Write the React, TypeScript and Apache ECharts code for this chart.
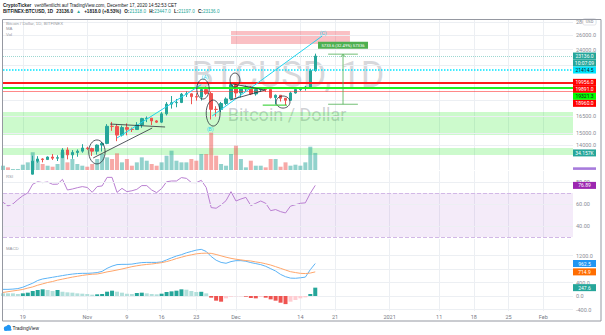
import React, { useEffect, useRef } from "react";
import * as echarts from "echarts";

// ---------- categories (one per day, Oct 15 2020 .. Feb 7 2021) ----------
const firstDayUTC = Date.UTC(2020, 9, 15);
const dayCount = 116;
const dates: string[] = [];
for (let i = 0; i < dayCount; i++) {
  dates.push(new Date(firstDayUTC + i * 86400000).toISOString().slice(0, 10));
}

// ---------- time axis ticks ----------
const tickDates = ["2020-10-19", "2020-11-01", "2020-11-09", "2020-11-16", "2020-11-23", "2020-12-01", "2020-12-14", "2020-12-21", "2021-01-01", "2021-01-11", "2021-01-18", "2021-01-25", "2021-02-01"];
const tickLabels = ["19", "Nov", "9", "16", "23", "Dec", "14", "21", "2021", "11", "18", "25", "Feb"];

// ---------- daily candles (Oct 15 .. Dec 17) ----------
const opens = [11425, 11500, 11320, 11365, 11500, 11750, 11915, 12820, 12975, 12935, 13120, 13035, 13070, 13650, 13280, 13460, 13560, 13800, 13760, 13560, 14030, 14160, 15590, 15580, 14840, 15480, 15330, 15310, 15700, 16280, 16320, 16070, 15960, 16720, 17660, 17800, 17820, 18680, 18710, 18420, 18370, 19160, 18740, 17150, 17140, 17720, 18180, 19700, 18800, 19220, 19450, 18700, 19160, 19380, 19180, 18320, 18560, 18250, 18040, 18800, 19170, 19280, 19440, 21318];
const closes = [11500, 11320, 11365, 11500, 11750, 11915, 12820, 12975, 12935, 13120, 13035, 13070, 13650, 13280, 13460, 13560, 13800, 13760, 13560, 14030, 14160, 15590, 15580, 14840, 15480, 15330, 15310, 15700, 16280, 16320, 16070, 15960, 16720, 17660, 17800, 17820, 18680, 18710, 18420, 18370, 19160, 18740, 17150, 17140, 17720, 18180, 19700, 18800, 19220, 19450, 18700, 19160, 19380, 19180, 18320, 18560, 18250, 18040, 18800, 19170, 19280, 19440, 21318, 23136];
const highs = [11635, 11540, 11400, 11490, 11820, 12000, 13220, 13180, 13030, 13160, 13340, 13250, 13790, 13850, 13640, 13690, 14100, 13900, 13830, 14080, 14280, 15780, 15980, 15780, 15660, 15850, 15480, 15960, 16350, 16480, 16330, 16140, 16880, 17860, 18480, 18180, 18800, 18970, 18760, 18770, 19420, 19490, 18920, 17450, 17880, 18340, 19880, 19956, 19300, 19600, 19540, 19170, 19420, 19420, 19300, 18640, 18580, 18280, 18940, 19400, 19330, 19560, 21540, 23447];
const lows = [11260, 11220, 11270, 11330, 11420, 11680, 11900, 12700, 12730, 12900, 12900, 12830, 13060, 12950, 12990, 13140, 13440, 13640, 13200, 13300, 13530, 14100, 15200, 14340, 14720, 14820, 15100, 15280, 15460, 15960, 15700, 15880, 15880, 16570, 17220, 17350, 17760, 18380, 17650, 18000, 18020, 18600, 16200, 16470, 16880, 17550, 18180, 18320, 18340, 18930, 18580, 18520, 18900, 18920, 18230, 17620, 17920, 17570, 18000, 18730, 19000, 19050, 19280, 21197];
// volume in thousands
const volumesK = [8.6, 5.3, 2.0, 2.0, 10.6, 15.3, 35.3, 18.6, 12, 8.6, 6.6, 12, 35.3, 15.3, 22, 12, 8.6, 6.6, 12, 22, 32, 25.3, 22, 33.3, 15.3, 22, 8.6, 15.3, 25.3, 18.6, 12, 8.6, 15.3, 28.6, 38.6, 18.6, 15.3, 15.3, 22, 18.6, 32, 32, 74.6, 28.6, 12, 8.6, 32, 48.6, 22, 5.3, 18.6, 8.6, 8.6, 5.3, 22, 22, 6.6, 15.3, 8.6, 10.6, 8.6, 15.3, 46.6, 34.157];

// ---------- RSI ----------
const rsiValues = [61.5, 58.2, 60, 64, 67.5, 70, 78, 80.2, 79.4, 80, 77.9, 78, 82.4, 72.7, 73.6, 74.8, 75.8, 75, 70.6, 75.8, 76.4, 84.2, 84.2, 70.5, 74.2, 71.2, 72, 73.3, 76.7, 76.7, 72.7, 70.3, 74, 80.2, 80.9, 80.9, 84, 83.3, 79.5, 79.4, 81.5, 75, 56.7, 56.1, 59.1, 63, 71.2, 62.7, 64.5, 66, 58.5, 60.6, 62.7, 60.6, 53.9, 54.9, 53, 51.8, 58, 59.3, 60.6, 61, 69.7, 76.89];

// ---------- MACD ----------
const macdValues = [197, 197, 205, 220, 260, 320, 380, 460, 505, 530, 555, 580, 605, 630, 650, 665, 672, 672, 680, 695, 730, 820, 885, 930, 938, 938, 945, 970, 990, 996, 996, 996, 1010, 1070, 1130, 1185, 1225, 1280, 1320, 1360, 1383, 1320, 1170, 1060, 996, 970, 1020, 1047, 1047, 1030, 990, 960, 930, 880, 810, 740, 640, 572, 530, 525, 540, 560, 780, 962.5];
const signalValues = [105, 128, 150, 170, 195, 235, 270, 320, 360, 400, 430, 470, 500, 530, 560, 585, 610, 630, 645, 652, 680, 715, 740, 770, 800, 835, 869, 895, 918, 935, 948, 968, 988, 1020, 1060, 1110, 1150, 1190, 1220, 1250, 1264, 1270, 1264, 1230, 1190, 1150, 1116, 1090, 1070, 1050, 1037, 1010, 988, 955, 918, 870, 820, 770, 721, 695, 672, 665, 680, 714.9];
const histValues = [79, 79, 79, 59, 79, 99, 148, 178, 198, 178, 148, 178, 128, 109, 99, 79, 69, 59, 40, 50, 59, 128, 158, 128, 99, 69, 59, 89, 99, 79, 59, 50, 69, 119, 138, 158, 198, 188, 148, 119, 125, 79, -49, -138, -168, -69, -20, -10, -10, -20, -59, -69, -30, -49, -99, -138, -198, -240, -168, -119, -69, -40, 60, 247.6];

// ---------- price-axis levels ----------
const priceGridLevels = [28000, 26000, 24000, 22000, 20000, 18000, 16500, 15000, 14000];
const priceAxisLabels = [28000, 26000, 24000, 16500, 15000, 14000];
const rsiGridLevels = [80, 60, 40];
const macdGridLevels = [1200, 800, 400, 0, -400];
const macdAxisLabels = [1200, 400, 0, -400];

// ---------- horizontal drawings ----------
const redLevels = [19956, 19891];
const greenLevel = 19321.3;
const lowRedLevel = 18960;
const cyanLevel = 21414.5;
const countdownText = "10:07:09";

// zones [top price, bottom price]
const greenZones = [[16894, 14847], [13800, 13267]];
const pinkZone = { from: "2020-11-30", to: "2020-12-24", top: 26628, bottom: 24753 };

// ---------- chart drawings, in (day index, price) ----------
const cyanLines = [[23.0, 14600, 40.0, 19700], [42.2, 16520, 64.4, 25890]];
const blackLines = [[18.2, 13050, 30.1, 15440], [21.6, 15790, 32.7, 15530], [46.4, 19771, 52.9, 19117], [45.8, 18070, 52.9, 19117]];
const ellipses = [[17.3, 14440, 20.6, 12620], [39.1, 20330, 41.6, 18170], [41.0, 18070, 43.8, 15610], [45.8, 21030, 47.8, 19440], [55.1, 18480, 57.9, 17270]];
const greenMarkLine = [52.4, 17560, 57.3, 17560];
const waveLabels: [string, number, number][] = [["(A)", 40.8, 20570], ["(B)", 41.8, 15360], ["(C)", 64.6, 26330]];
const measure = { d1: 65.6, d2: 71.6, dMid: 68.6, from: 17647, to: 23381, text: "5733.6 (32.49%) 57336" };

const UP = "#26a69a";
const DOWN = "#ef5350";
const FONT = "Roboto, 'Liberation Sans', sans-serif";
const PRICE_MIN = 12197;
const PRICE_MAX = 28326;

const PL = 3;
const PW = 570;
const PR = PL + PW;

export default function App() {
  const ref = useRef<HTMLDivElement>(null);

  useEffect(() => {
    const el = ref.current!;
    const chart = echarts.init(el, undefined, { renderer: "svg" });
    const tickSet = new Set(tickDates);
    const labelMap: Record<string, string> = {};
    tickDates.forEach((d, i) => (labelMap[d] = tickLabels[i]));

    const candleData = opens.map((o, i) => [o, closes[i], lows[i], highs[i]]);
    const volData = volumesK.map((v, i) => ({
      value: v,
      itemStyle: { color: closes[i] >= opens[i] ? "rgba(38,166,154,0.5)" : "rgba(239,83,80,0.5)" },
    }));
    const histData = histValues.map((v, i) => {
      const p = i > 0 ? histValues[i - 1] : v;
      const c = v >= 0 ? (v > p ? "#26a69a" : "#b2dfdb") : v < p ? "#ef5350" : "#ffcdd2";
      return { value: v, itemStyle: { color: c } };
    });

    const grids = [
      { left: PL, top: 20, width: PW, height: 150 },
      { left: PL, top: 130, width: PW, height: 40 },
      { left: PL, top: 171, width: PW, height: 67 },
      { left: PL, top: 239, width: PW, height: 72 },
    ];
    const gridLine = { color: "#eceff3", width: 1, type: "solid" };

    const option: any = {
      animation: false,
      backgroundColor: "#ffffff",
      grid: grids,
      xAxis: [0, 1, 2, 3].map((i) => ({
        type: "category",
        gridIndex: i,
        data: dates,
        boundaryGap: false,
        axisLine: { show: false },
        axisTick: { show: false },
        axisLabel: {
          show: i === 3,
          interval: (_i: number, v: string) => tickSet.has(v),
          formatter: (v: string) => labelMap[v] || "",
          fontSize: 5.5,
          color: "#787b86",
          margin: 3,
          fontFamily: FONT,
        },
        splitLine: {
          show: i !== 1,
          interval: (_i: number, v: string) => tickSet.has(v),
          lineStyle: { color: "#eceff3", width: 1 },
        },
      })),
      yAxis: [
        { type: "log", logBase: 10, gridIndex: 0, min: PRICE_MIN, max: PRICE_MAX, show: false },
        { type: "value", gridIndex: 1, min: 0, max: 80, show: false },
        { type: "value", gridIndex: 2, min: 29, max: 90, show: false },
        { type: "value", gridIndex: 3, min: -444, max: 1689, show: false },
      ],
      series: [
        {
          type: "line",
          xAxisIndex: 0,
          yAxisIndex: 0,
          data: closes,
          symbol: "none",
          silent: true,
          lineStyle: { opacity: 0 },
          z: 1,
          markLine: {
            silent: true,
            z: 1,
            symbol: ["none", "none"],
            label: { show: false },
            lineStyle: gridLine,
            data: priceGridLevels.map((v) => ({ yAxis: v })),
          },
          markArea: {
            silent: true,
            z: 1,
            data: [
              ...greenZones.map((z) => [{ yAxis: z[0], itemStyle: { color: "rgba(0,230,0,0.2)" } }, { yAxis: z[1] }]),
              [
                { xAxis: pinkZone.from, yAxis: pinkZone.top, itemStyle: { color: "rgba(240,60,70,0.32)" } },
                { xAxis: pinkZone.to, yAxis: pinkZone.bottom },
              ],
            ],
          },
        },
        {
          type: "bar",
          xAxisIndex: 1,
          yAxisIndex: 1,
          data: volData,
          barWidth: 4,
          z: 2,
          silent: true,
        },
        {
          type: "candlestick",
          xAxisIndex: 0,
          yAxisIndex: 0,
          data: candleData,
          barWidth: 3,
          z: 3,
          clip: true,
          itemStyle: { color: UP, color0: DOWN, borderColor: UP, borderColor0: DOWN, borderWidth: 1 },
          markLine: {
            silent: true,
            symbol: ["none", "none"],
            label: { show: false },
            data: [
              { yAxis: closes[closes.length - 1], lineStyle: { color: "rgba(38,166,154,0.45)", type: "dotted", width: 1 } },
              { yAxis: cyanLevel, lineStyle: { color: "#00e5ff", type: "dotted", width: 1.5 } },
              ...redLevels.map((v) => ({ yAxis: v, lineStyle: { color: "#ff1a1a", type: "solid", width: 1 } })),
              { yAxis: greenLevel, lineStyle: { color: "#22ee22", type: "solid", width: 2 } },
              { yAxis: lowRedLevel, lineStyle: { color: "rgba(255,40,40,0.55)", type: "solid", width: 1 } },
            ],
          },
        },
        {
          type: "line",
          xAxisIndex: 2,
          yAxisIndex: 2,
          data: rsiValues,
          symbol: "none",
          z: 3,
          lineStyle: { color: "#b97fd1", width: 1 },
          markArea: {
            silent: true,
            data: [[{ yAxis: 70, itemStyle: { color: "rgba(150,60,200,0.1)" } }, { yAxis: 30 }]],
          },
          markLine: {
            silent: true,
            symbol: ["none", "none"],
            label: { show: false },
            data: [
              ...rsiGridLevels.map((v) => ({ yAxis: v, lineStyle: gridLine })),
              { yAxis: 70, lineStyle: { color: "#d2b8e6", type: "dashed", width: 1 } },
              { yAxis: 30, lineStyle: { color: "#d2b8e6", type: "dashed", width: 1 } },
            ],
          },
        },
        {
          type: "bar",
          xAxisIndex: 3,
          yAxisIndex: 3,
          data: histData,
          barWidth: 4,
          z: 2,
          markLine: {
            silent: true,
            z: 1,
            symbol: ["none", "none"],
            label: { show: false },
            lineStyle: gridLine,
            data: macdGridLevels.map((v) => ({ yAxis: v })),
          },
        },
        {
          type: "line",
          xAxisIndex: 3,
          yAxisIndex: 3,
          data: macdValues,
          symbol: "none",
          z: 3,
          lineStyle: { color: "#5cb3f5", width: 1 },
        },
        {
          type: "line",
          xAxisIndex: 3,
          yAxisIndex: 3,
          data: signalValues,
          symbol: "none",
          z: 3,
          lineStyle: { color: "#ffa66b", width: 1 },
        },
      ],
    };

    chart.setOption(option);

    // ---------- overlays positioned through the chart's own scales ----------
    const xA = chart.convertToPixel({ xAxisIndex: 0 }, dates[0]) as unknown as number;
    const xB = chart.convertToPixel({ xAxisIndex: 0 }, dates[1]) as unknown as number;
    const xAt = (d: number) => xA + (xB - xA) * d;
    const yAt = (p: number) => chart.convertToPixel({ yAxisIndex: 0 }, p) as unknown as number;
    const yVol = (v: number) => chart.convertToPixel({ yAxisIndex: 1 }, v) as unknown as number;
    const yRsi = (v: number) => chart.convertToPixel({ yAxisIndex: 2 }, v) as unknown as number;
    const yMacd = (v: number) => chart.convertToPixel({ yAxisIndex: 3 }, v) as unknown as number;

    const G: any[] = [];
    const text = (x: number, y: number, t: string, st: any = {}, z = 20) =>
      G.push({
        type: "text",
        x,
        y,
        z,
        silent: true,
        style: { text: t, fontSize: 5.5, fontFamily: FONT, fill: "#8a8d96", align: "left", verticalAlign: "middle", ...st },
      });
    const line = (x1: number, y1: number, x2: number, y2: number, stroke: string, lw = 1, z = 20) =>
      G.push({ type: "line", z, silent: true, shape: { x1, y1, x2, y2 }, style: { stroke, lineWidth: lw } });
    const tag = (y: number, t: string, bg: string, fg: string) => {
      G.push({ type: "rect", z: 22, silent: true, shape: { x: PR, y: y - 3.5, width: 23, height: 7 }, style: { fill: bg } });
      text(PR + 11.5, y, t, { fill: fg, align: "center", fontSize: 5 }, 23);
    };

    // watermark
    text(288, 75, "BTCUSD, 1D", { fontSize: 36, fill: "rgba(149,152,161,0.38)", align: "center" }, 0);
    text(287, 114, "Bitcoin / Dollar", { fontSize: 18, fill: "rgba(149,152,161,0.45)", align: "center" }, 0);

    // header
    const hdrFont = "'Liberation Sans', Arial, sans-serif";
    G.push({
      type: "text",
      x: 3,
      y: 5.5,
      z: 20,
      style: {
        text: "{b|CryptoTicker} {n|veröffentlicht auf TradingView.com, December 17, 2020 14:52:53 CET}",
        verticalAlign: "middle",
        rich: {
          b: { fontSize: 4.6, fontWeight: "bold", fontFamily: hdrFont, fill: "#131722" },
          n: { fontSize: 4.6, fontFamily: hdrFont, fill: "#131722" },
        },
      },
    });
    const c = closes[closes.length - 1];
    const o = opens[opens.length - 1];
    const chg = c - o;
    G.push({
      type: "text",
      x: 3,
      y: 11.5,
      z: 20,
      style: {
        text:
          `{b|BITFINEX:BTCUSD, 1D} {b|${c.toFixed(1)}} {g|▲} {b|+${chg.toFixed(1)} (+${((chg / o) * 100).toFixed(2)}%)} ` +
          `{b|O:}{g|${o.toFixed(1)}} {b|H:}{g|${highs[highs.length - 1].toFixed(1)}} {b|L:}{g|${lows[lows.length - 1].toFixed(1)}} {b|C:}{g|${c.toFixed(1)}}`,
        verticalAlign: "middle",
        rich: {
          b: { fontSize: 4.6, fontWeight: "bold", fontFamily: hdrFont, fill: "#131722" },
          g: { fontSize: 4.6, fontFamily: hdrFont, fill: UP },
        },
      },
    });

    // pane legends
    const lg = { fontSize: 4.3, fill: "#9598a1", fontFamily: hdrFont };
    text(6, 23, "Bitcoin / Dollar, 1D, BITFINEX", lg);
    text(6, 28.5, "MA", lg);
    text(6, 34, "Vol", lg);
    text(6, 176, "RSI", lg);
    text(6, 248, "MACD", lg);

    // price axis labels
    priceAxisLabels.forEach((v) => text(PR + 3, yAt(v), v.toFixed(1)));
    rsiGridLevels.forEach((v) => text(PR + 3, yRsi(v), v.toFixed(2)));
    macdAxisLabels.forEach((v) => text(PR + 3, yMacd(v), v.toFixed(1)));

    // USD button
    G.push({ type: "rect", z: 21, silent: true, shape: { x: 583, y: 18.5, width: 13, height: 6.5, r: 1.5 }, style: { fill: "#fff", stroke: "#d1d4dc", lineWidth: 0.6 } });
    text(589.5, 21.8, "USD", { fontSize: 4, align: "center", fill: "#787b86" }, 22);

    // main tags with stacking
    const red = "#ff0000";
    const mainTags = [
      { y: yAt(c), t: c.toFixed(1), bg: UP, fg: "#fff" },
      { y: yAt(c), t: countdownText, bg: UP, fg: "#fff" },
      { y: yAt(cyanLevel), t: cyanLevel.toFixed(1), bg: "#00e5ff", fg: "#131722" },
      ...redLevels.map((v) => ({ y: yAt(v), t: v.toFixed(1), bg: red, fg: "#fff" })),
      { y: yAt(greenLevel), t: greenLevel.toFixed(1), bg: "#00ff00", fg: "#131722" },
      { y: yAt(lowRedLevel), t: lowRedLevel.toFixed(1), bg: red, fg: "#fff" },
    ];
    let prev = -1e9;
    mainTags.forEach((tg) => {
      const y = Math.max(tg.y, prev + 7);
      prev = y;
      tag(y, tg.t, tg.bg, tg.fg);
    });
    const lastVol = volumesK[volumesK.length - 1];
    tag(yVol(lastVol), lastVol.toFixed(3) + "K", UP, "#fff");
    G.push({ type: "rect", z: 22, silent: true, shape: { x: PR, y: 167.3, width: 23, height: 2.6 }, style: { fill: "#a77bdc" } });
    tag(yRsi(rsiValues[rsiValues.length - 1]), rsiValues[rsiValues.length - 1].toFixed(2), "#9c27b0", "#fff");
    tag(yMacd(macdValues[macdValues.length - 1]), macdValues[macdValues.length - 1].toFixed(1), "#2196f3", "#fff");
    tag(yMacd(signalValues[signalValues.length - 1]), signalValues[signalValues.length - 1].toFixed(1), "#ff6d00", "#fff");
    tag(yMacd(histValues[histValues.length - 1]), histValues[histValues.length - 1].toFixed(1), UP, "#fff");

    // drawings
    cyanLines.forEach((l) => line(xAt(l[0]), yAt(l[1]), xAt(l[2]), yAt(l[3]), "#22d3ee", 1));
    blackLines.forEach((l) => line(xAt(l[0]), yAt(l[1]), xAt(l[2]), yAt(l[3]), "#2a2e39", 0.8));
    ellipses.forEach((e) => {
      const x1 = xAt(e[0]), x2 = xAt(e[2]), y1 = yAt(e[1]), y2 = yAt(e[3]);
      G.push({
        type: "ellipse",
        z: 20,
        silent: true,
        shape: { cx: (x1 + x2) / 2, cy: (y1 + y2) / 2, rx: Math.abs(x2 - x1) / 2, ry: Math.abs(y2 - y1) / 2 },
        style: { fill: "none", stroke: "#2a2e39", lineWidth: 0.8 },
      });
    });
    line(xAt(greenMarkLine[0]), yAt(greenMarkLine[1]), xAt(greenMarkLine[2]), yAt(greenMarkLine[3]), "#22cc22", 1);
    waveLabels.forEach((w) => text(xAt(w[1]), yAt(w[2]), w[0], { fill: "#22d3ee", fontSize: 5, align: "center" }));

    // measure tool
    const mg = "#4caf50";
    const mx1 = xAt(measure.d1), mx2 = xAt(measure.d2), mxm = xAt(measure.dMid);
    const myTop = yAt(measure.to), myBot = yAt(measure.from);
    line(mx1, myTop, mx2, myTop, mg, 0.8);
    line(mx1, myBot, mx2, myBot, mg, 0.8);
    line(mxm, myTop, mxm, myBot, mg, 0.8);
    G.push({ type: "polyline", z: 20, silent: true, shape: { points: [[mxm - 2.5, myTop + 3], [mxm, myTop + 0.3], [mxm + 2.5, myTop + 3]] }, style: { stroke: mg, lineWidth: 0.8, fill: "none" } });
    G.push({ type: "rect", z: 21, silent: true, shape: { x: mxm - 25, y: myTop - 12.5, width: 50, height: 7 }, style: { fill: mg } });
    text(mxm, myTop - 9, measure.text, { fill: "#fff", fontSize: 4.2, align: "center" }, 22);

    // frame
    G.push({ type: "rect", z: 30, silent: true, shape: { x: 2.5, y: 19.5, width: 598.5, height: 301.5 }, style: { fill: "none", stroke: "#9598a1", lineWidth: 1 } });

    // logo
    G.push({ type: "circle", z: 20, silent: true, shape: { cx: 6, cy: 328.5, r: 2.2 }, style: { fill: "#2196f3" } });
    G.push({ type: "circle", z: 20, silent: true, shape: { cx: 8.5, cy: 327.5, r: 2.6 }, style: { fill: "#2196f3" } });
    G.push({ type: "rect", z: 20, silent: true, shape: { x: 4, y: 328.5, width: 7.5, height: 2.3, r: 1 }, style: { fill: "#2196f3" } });
    text(12.5, 328.5, "TradingView", { fontSize: 4.8, fill: "#131722", fontFamily: hdrFont });

    chart.setOption({ graphic: { elements: G } });

    return () => chart.dispose();
  }, []);

  return <div ref={ref} style={{ position: "fixed", left: 0, top: 0, width: 605, height: 335, background: "#fff" }} />;
}
